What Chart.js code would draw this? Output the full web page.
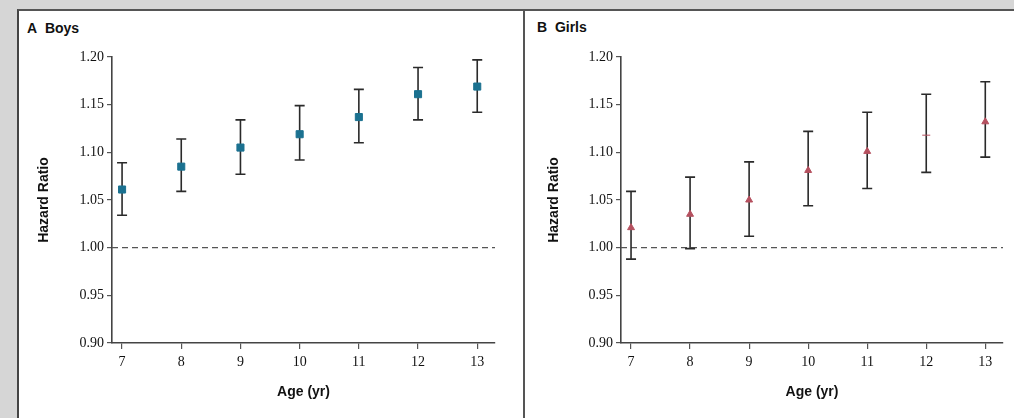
<!DOCTYPE html>
<html>
<head>
<meta charset="utf-8">
<script src="https://cdn.jsdelivr.net/npm/chart.js@4.4.0/dist/chart.umd.min.js"></script>
<style>
  body { margin: 0; background: #d6d6d6; width: 1014px; height: 418px; overflow: hidden; position: relative; }
  #frame { position: absolute; left: 17px; top: 9px; width: 997px; height: 409px; background: #fff;
           border-left: 2px solid #444; border-top: 2px solid #555; box-sizing: border-box; }
  #divider { position: absolute; left: 523px; top: 10px; width: 2px; height: 408px; background: #555; }
  .panel { position: absolute; top: 10px; height: 408px; }
  .label { position: absolute; font-family: "Liberation Sans", sans-serif; font-weight: bold; font-size: 14px; color: #111; }
</style>
</head>
<body>
<div id="frame"></div>
<div id="divider"></div>
<div class="label" style="left:27px; top:20px;">A&nbsp;&nbsp;Boys</div>
<div class="label" style="left:537px; top:19px;">B&nbsp;&nbsp;Girls</div>
<div class="panel" style="left:18px; width:505px;"><canvas id="boysChart" width="505" height="408"></canvas></div>
<div class="panel" style="left:525px; width:489px;"><canvas id="girlsChart" width="489" height="408"></canvas></div>
<script>
// ages on the x axis
var ages = [7, 8, 9, 10, 11, 12, 13];
var y_ticks = [0.90, 0.95, 1.00, 1.05, 1.10, 1.15, 1.20];

// boys: hazard ratio and 95% CI
var boys_hr    = [1.061, 1.085, 1.105, 1.119, 1.137, 1.161, 1.169];
var boys_upper = [1.089, 1.114, 1.134, 1.149, 1.166, 1.189, 1.197];
var boys_lower = [1.034, 1.059, 1.077, 1.092, 1.110, 1.134, 1.142];

// girls: hazard ratio and 95% CI
var girls_hr    = [1.021, 1.035, 1.050, 1.081, 1.101, 1.118, 1.132];
var girls_upper = [1.059, 1.074, 1.090, 1.122, 1.142, 1.161, 1.174];
var girls_lower = [0.988, 0.999, 1.012, 1.044, 1.062, 1.079, 1.095];

function toPoints(xs, ys) {
  var pts = [];
  for (var i in xs) {
    pts.push({x: xs[i], y: ys[i]});
  }
  return pts;
}

// draws the CI whiskers and the dashed reference line at 1.00
var errorBars = {
  id: 'errorBars',
  beforeDatasetsDraw: function(chart, args, opts) {
    var ctx = chart.ctx;
    var xs = chart.scales.x, ys = chart.scales.y;
    var area = chart.chartArea;
    ctx.save();
    // reference line
    ctx.strokeStyle = '#555';
    ctx.lineWidth = 1.3;
    ctx.setLineDash([6, 4]);
    var y1 = ys.getPixelForValue(1.0);
    ctx.beginPath();
    ctx.moveTo(area.left, y1);
    ctx.lineTo(area.right, y1);
    ctx.stroke();
    ctx.setLineDash([]);
    // whiskers
    ctx.strokeStyle = '#2a2a2a';
    ctx.lineWidth = 1.6;
    for (var i in opts.x) {
      var px = xs.getPixelForValue(opts.x[i]);
      var top = ys.getPixelForValue(opts.upper[i]);
      var bot = ys.getPixelForValue(opts.lower[i]);
      ctx.beginPath();
      ctx.moveTo(px, top); ctx.lineTo(px, bot);
      ctx.moveTo(px - 5, top); ctx.lineTo(px + 5, top);
      ctx.moveTo(px - 5, bot); ctx.lineTo(px + 5, bot);
      ctx.stroke();
    }
    ctx.restore();
  }
};

function makeChart(canvasId, hr, upper, lower, color, style, radius, yWidth, titlePad, padRight) {
  var ctx = document.getElementById(canvasId).getContext('2d');
  return new Chart(ctx, {
    type: 'scatter',
    data: {
      datasets: [{
        data: toPoints(ages, hr),
        backgroundColor: color,
        borderColor: color,
        pointStyle: style,
        pointRadius: radius,
        pointHoverRadius: radius
      }]
    },
    plugins: [errorBars],
    options: {
      responsive: false,
      animation: false,
      layout: { padding: { top: 47, right: padRight, left: 0, bottom: 0 } },
      plugins: {
        legend: { display: false },
        tooltip: { enabled: false },
        errorBars: { x: ages, upper: upper, lower: lower }
      },
      scales: {
        x: {
          type: 'linear',
          min: 6.83,
          max: 13.3,
          afterBuildTicks: function(scale) {
            scale.ticks = ages.map(function(a) { return {value: a}; });
          },
          afterFit: function(scale) { scale.height = 75; },
          grid: { drawOnChartArea: false, drawTicks: true, tickLength: 6, color: '#555', lineWidth: 1.2 },
          border: { display: true, color: '#444', width: 1.6 },
          ticks: {
            padding: 5,
            color: '#111',
            font: { family: 'Liberation Serif', size: 14 },
            callback: function(v) { return v; }
          },
          title: {
            display: true,
            text: 'Age (yr)',
            color: '#111',
            padding: { bottom: 17 },
            font: { family: 'Liberation Sans', size: 14, weight: 'bold' }
          }
        },
        y: {
          min: 0.9,
          max: 1.2,
          afterBuildTicks: function(scale) {
            scale.ticks = y_ticks.map(function(v) { return {value: v}; });
          },
          afterFit: function(scale) { scale.width = yWidth; },
          grid: { drawOnChartArea: false, drawTicks: true, tickLength: 5, color: '#555', lineWidth: 1.2 },
          border: { display: true, color: '#444', width: 1.6 },
          ticks: {
            padding: 3,
            color: '#111',
            font: { family: 'Liberation Serif', size: 14 },
            callback: function(v) { return v.toFixed(2); }
          },
          title: {
            display: true,
            text: 'Hazard Ratio',
            color: '#111',
            padding: { top: titlePad },
            font: { family: 'Liberation Sans', size: 14, weight: 'bold' }
          }
        }
      }
    }
  });
}

makeChart('boysChart', boys_hr, boys_upper, boys_lower, '#1b7190', 'rect', 5, 94, 18, 28);
// the 12-year girls estimate shows only as a short dash in the source
makeChart('girlsChart', girls_hr, girls_upper, girls_lower, '#b5505f',
  ['triangle', 'triangle', 'triangle', 'triangle', 'triangle', 'line', 'triangle'], 4, 96, 21, 11);
</script>
</body>
</html>
